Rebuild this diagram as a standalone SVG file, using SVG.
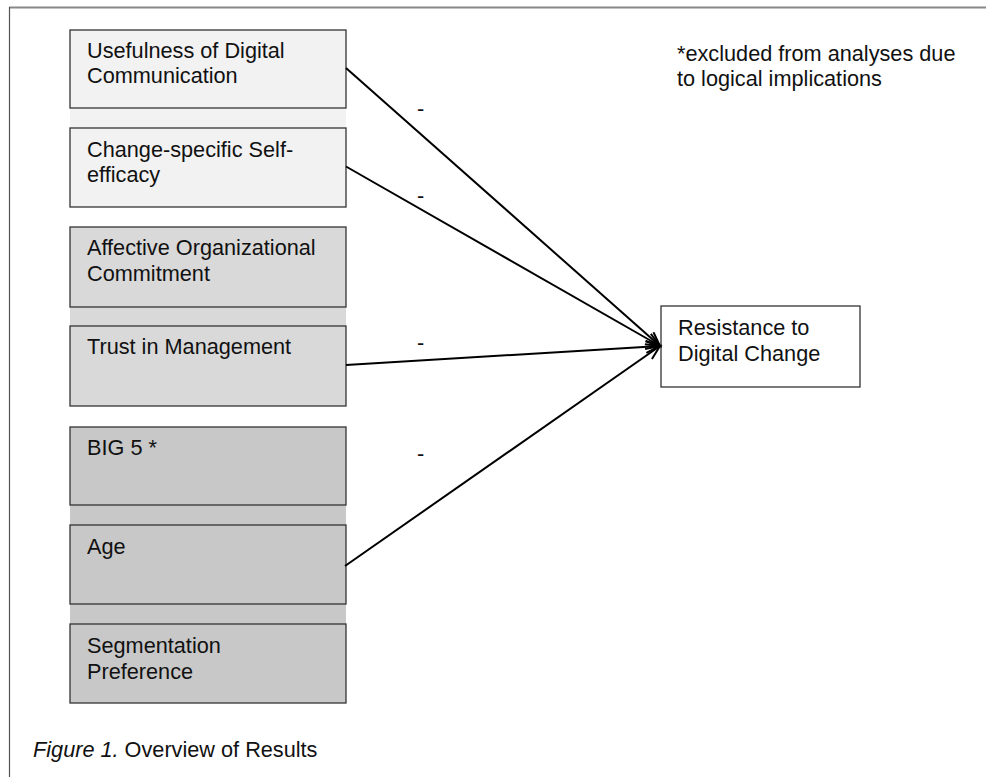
<svg xmlns="http://www.w3.org/2000/svg" width="986" height="778" viewBox="0 0 986 778">
  <defs>
    <marker id="open-arrow" markerUnits="userSpaceOnUse" markerWidth="20" markerHeight="16" refX="15" refY="7" orient="auto">
      <path d="M1,1 L15,7 L1,13" fill="none" stroke="#000" stroke-width="2"/>
    </marker>
  </defs>
  <style>
    text { font-family: "Liberation Sans", Arial, sans-serif; font-size: 21.7px; fill: #111; }
    .box { stroke: #333; stroke-width: 1.3; }
    .tier1 { fill: #f2f2f2; }
    .tier2 { fill: #d9d9d9; }
    .tier3 { fill: #c8c8c8; }
    .edge { fill: none; stroke: #000; stroke-width: 2; marker-end: url(#open-arrow); }
  </style>
  <rect x="0" y="0" width="986" height="778" fill="#fff"/>

  <!-- frame -->
  <line x1="9" y1="7.5" x2="986" y2="7.5" stroke="#888" stroke-width="2"/>
  <line x1="9.5" y1="7" x2="9.5" y2="777" stroke="#555" stroke-width="1.2"/>

  <!-- background bands behind grouped predictors -->
  <rect class="tier1" x="70" y="30" width="276" height="177"/>
  <rect class="tier2" x="70" y="227" width="276" height="179"/>
  <rect class="tier3" x="70" y="427" width="276" height="276"/>

  <g id="usefulness">
    <rect class="box tier1" x="70" y="30" width="276" height="78"/>
    <text x="87" y="58">Usefulness of Digital</text>
    <text x="87" y="83">Communication</text>
  </g>
  <g id="self-efficacy">
    <rect class="box tier1" x="70" y="128" width="276" height="79"/>
    <text x="87" y="156.5">Change-specific Self-</text>
    <text x="87" y="181.5">efficacy</text>
  </g>
  <g id="commitment">
    <rect class="box tier2" x="70" y="227" width="276" height="80"/>
    <text x="87" y="255">Affective Organizational</text>
    <text x="87" y="281">Commitment</text>
  </g>
  <g id="trust">
    <rect class="box tier2" x="70" y="326" width="276" height="80"/>
    <text x="87" y="354">Trust in Management</text>
  </g>
  <g id="big5">
    <rect class="box tier3" x="70" y="427" width="276" height="78"/>
    <text x="87" y="454.5">BIG 5 *</text>
  </g>
  <g id="age">
    <rect class="box tier3" x="70" y="525" width="276" height="79"/>
    <text x="87" y="553.5">Age</text>
  </g>
  <g id="segmentation">
    <rect class="box tier3" x="70" y="624" width="276" height="79"/>
    <text x="87" y="652.5">Segmentation</text>
    <text x="87" y="678.5">Preference</text>
  </g>

  <g id="resistance">
    <rect x="661" y="306" width="199" height="81" fill="#fff" stroke="#333" stroke-width="1.3"/>
    <text x="678" y="335">Resistance to</text>
    <text x="678" y="360.5">Digital Change</text>
  </g>

  <g id="connectors">
    <line class="edge" x1="346" y1="68" x2="660" y2="346"/>
    <line class="edge" x1="346" y1="166.5" x2="660" y2="346"/>
    <line class="edge" x1="346" y1="365" x2="660" y2="346"/>
    <line class="edge" x1="345" y1="566" x2="660" y2="346"/>
    <text x="417" y="116">-</text>
    <text x="417" y="202.5">-</text>
    <text x="417" y="349.5">-</text>
    <text x="417" y="461">-</text>
  </g>

  <g id="note">
    <text x="677" y="61">*excluded from analyses due</text>
    <text x="677" y="86">to logical implications</text>
  </g>

  <text x="33" y="757"><tspan font-style="italic">Figure 1.</tspan> Overview of Results</text>
</svg>
